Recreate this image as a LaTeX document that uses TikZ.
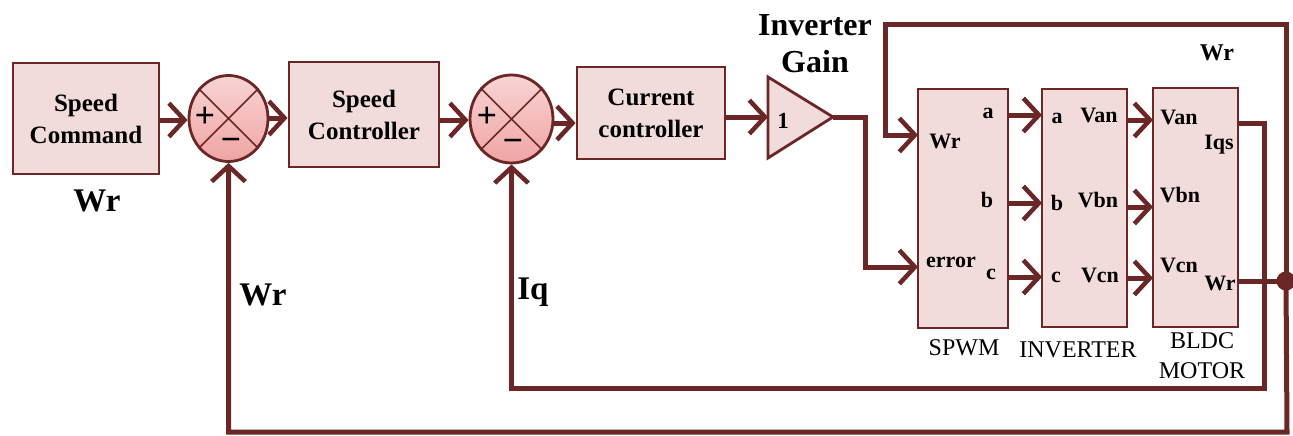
\documentclass[tikz,border=0pt]{standalone}
\usepackage{fontspec}
\setmainfont{Liberation Serif}
\usetikzlibrary{arrows.meta,shapes.geometric,calc}
\definecolor{ln}{HTML}{6B2626}
\definecolor{bx}{HTML}{F2DCDB}
\definecolor{smtop}{HTML}{F8D4D4}
\definecolor{smbot}{HTML}{F0A4A4}
\begin{document}
\begin{tikzpicture}[x=1pt,y=-1pt,
  blk/.style={draw=ln, line width=2.8pt, fill=bx, inner sep=0pt},
  sumj/.style={ellipse, draw=ln, line width=2.8pt, top color=smtop, bottom color=smbot, inner sep=0pt},
  conn/.style={draw=ln, line width=5pt},
  arr/.style={conn, -{Straight Barb[length=13pt 0 0,width=28pt 0 0,line width=4.5pt,scale=1.2]}},
  btxt/.style={font=\fontsize{25}{32}\selectfont\bfseries, align=center},
  lbl/.style={font=\fontsize{22}{24}\selectfont\bfseries, inner sep=0pt},
  big/.style={font=\fontsize{33}{38}\selectfont\bfseries, inner sep=0pt},
  captxt/.style={font=\fontsize{24}{30}\selectfont, inner sep=0pt, align=center},
  sgn/.style={font=\fontsize{36}{36}\selectfont\bfseries, inner sep=0pt},
  xline/.style={draw=ln, line width=1.6pt}
]
\useasboundingbox (0,0) rectangle (1293,436);

% blocks
\node[blk, minimum width=146pt, minimum height=111pt] (cmd) at (86,118.5) {};
\node[btxt] at (cmd) {Speed\\Command};
\node[blk, minimum width=150pt, minimum height=105pt] (sc) at (364,114.5) {};
\node[btxt] at (sc) {Speed\\Controller};
\node[blk, minimum width=148pt, minimum height=92pt] (cc) at (651,113) {};
\node[btxt] at (cc) {Current\\controller};

\node[blk, minimum width=90pt, minimum height=239pt] (spwm) at (963,208.5) {};
\node[blk, minimum width=85pt, minimum height=238pt] (inv) at (1084.5,208) {};
\node[blk, minimum width=85pt, minimum height=239pt] (bldc) at (1195.5,207.5) {};

% summing junctions
\node[sumj, minimum width=79pt, minimum height=86pt] (s1) at (228.5,118.5) {};
\draw[xline] (s1.45) -- (s1.225) (s1.135) -- (s1.315);
\node[sgn] at (205,117) {+};
\node[sgn] at (231,145) {−};
\node[sumj, minimum width=83pt, minimum height=88pt] (s2) at (511.5,119) {};
\draw[xline] (s2.45) -- (s2.225) (s2.135) -- (s2.315);
\node[sgn] at (487,117) {+};
\node[sgn] at (513,146) {−};

% gain
\coordinate (gin) at (768,117);
\coordinate (gout) at (833,117);
\draw[blk, line join=miter] (768,77) -- (gout) -- (768,158) -- cycle;
\node[lbl, font=\fontsize{23}{24}\selectfont\bfseries] (one) at (783,121) {1};
\node[big, align=center, font=\fontsize{32}{37}\selectfont\bfseries] (gainlbl) at (815,44) {Inverter\\Gain};

% ports
\coordinate (pWr) at (918,135);
\coordinate (pErr) at (918,267);
\coordinate (jn) at (865,117);
\coordinate (tl) at (885,25);
\coordinate (pa) at (1008,115);
\coordinate (pb) at (1008,203);
\coordinate (pc) at (1008,277);
\coordinate (qa) at (1042,115);
\coordinate (qb) at (1042,203);
\coordinate (qc) at (1042,277);
\coordinate (ra) at (1127,120);
\coordinate (rb) at (1127,207);
\coordinate (rc) at (1127,278);
\coordinate (ma) at (1153,120);
\coordinate (mb) at (1153,207);
\coordinate (mc) at (1153,278);
\coordinate (mIqs) at (1238,123);
\coordinate (mWr) at (1238,281);
\coordinate (iqr) at (1264,388);
\coordinate (bot) at (1287,432);
\node[circle, fill=ln, minimum size=19pt, inner sep=0pt] (dot) at (1286,281) {};

% forward path
\draw[arr] (cmd.east |- 0,120) -- (s1.west |- 0,120);
\draw[arr] (s1.east |- 0,118) -- (sc.west |- 0,118);
\draw[arr] (sc.east |- 0,120) -- (s2.west |- 0,120);
\draw[arr] (s2.east |- 0,123) -- (cc.west |- 0,123);
\draw[arr] (cc.east |- gin) -- (gin);
\draw[arr] (gout) -- (jn) |- (pErr);

\draw[arr] (pa) -- (qa);
\draw[arr] (pb) -- (qb);
\draw[arr] (pc) -- (qc);
\draw[arr] (ra) -- (ma);
\draw[arr] (rb) -- (mb);
\draw[arr] (rc) -- (mc);

% feedback
\draw[conn] (mWr) -- (dot.center);
\draw[arr] (dot.center) |- (tl) |- (pWr);
\draw[arr] (dot.center) -- (bot) -| (s1.south);
\draw[arr] (mIqs) -| (iqr) -| (s2.south);

% labels in blocks
\node[lbl] at (945,141) {Wr};
\node[lbl] at (988,113) {a};
\node[lbl] at (987,200) {b};
\node[lbl] at (951,262) {error};
\node[lbl] at (991,274) {c};
\node[lbl] at (1057,118) {a};
\node[lbl] at (1099,115) {Van};
\node[lbl] at (1057,203) {b};
\node[lbl] at (1098,200) {Vbn};
\node[lbl] at (1056,277) {c};
\node[lbl] at (1100,275) {Vcn};
\node[lbl] at (1179,117) {Van};
\node[lbl] at (1219,145) {Iqs};
\node[lbl] at (1180,195) {Vbn};
\node[lbl] at (1179,265) {Vcn};
\node[lbl] at (1220,283) {Wr};

% captions
\node[captxt] at (964,348) {SPWM};
\node[captxt] at (1078,350) {INVERTER};
\node[captxt] at (1202,356) {BLDC\\MOTOR};

% signal labels
\node[big] at (97,201) {Wr};
\node[big] at (263,295) {Wr};
\node[big] at (533,292) {Iq};
\node[lbl, font=\fontsize{24}{28}\selectfont\bfseries] at (1217,53) {Wr};
\end{tikzpicture}
\end{document}
